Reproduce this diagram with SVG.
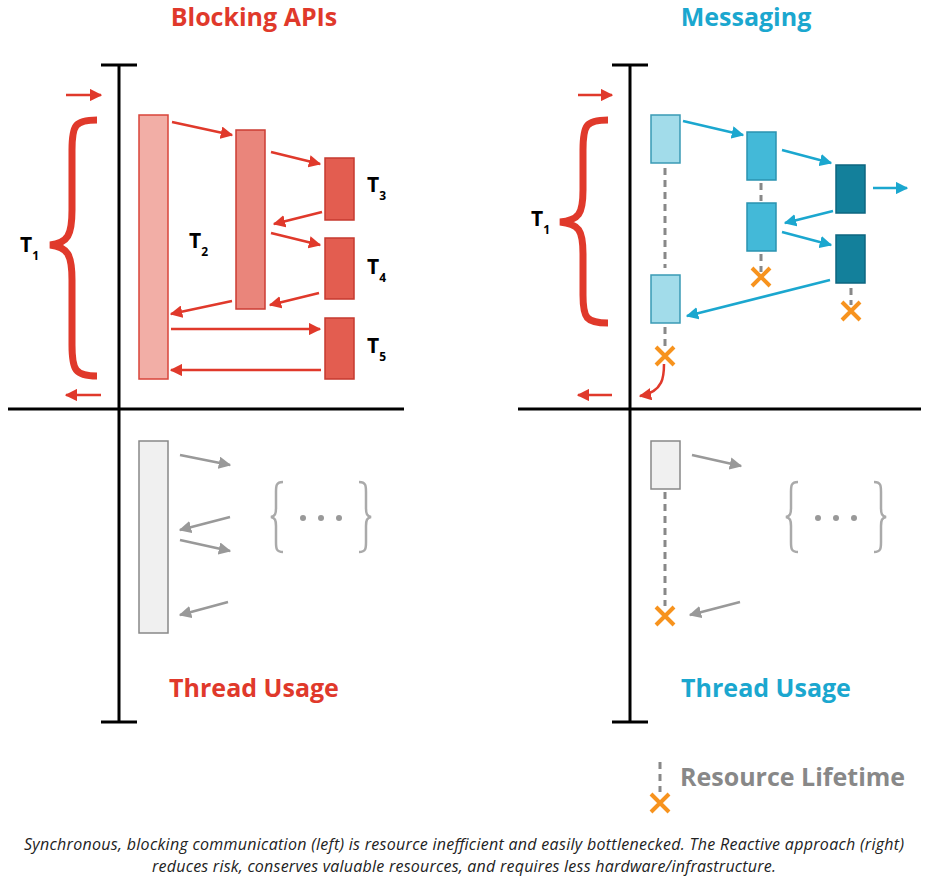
<svg xmlns="http://www.w3.org/2000/svg" width="931" height="890" viewBox="0 0 931 890">
<defs>
<marker id="ar" viewBox="0 0 10 10" refX="9" refY="5" markerWidth="5" markerHeight="5" orient="auto" markerUnits="strokeWidth"><path d="M0,0 L10,5 L0,10 z" fill="#e0392b"/></marker>
<marker id="ab" viewBox="0 0 10 10" refX="9" refY="5" markerWidth="5" markerHeight="5" orient="auto" markerUnits="strokeWidth"><path d="M0,0 L10,5 L0,10 z" fill="#1ba7cf"/></marker>
<marker id="ag" viewBox="0 0 10 10" refX="9" refY="5" markerWidth="5" markerHeight="5" orient="auto" markerUnits="strokeWidth"><path d="M0,0 L10,5 L0,10 z" fill="#999"/></marker>
<g id="xm"><path d="M-9,-9 L9,9 M9,-9 L-9,9" stroke="#f7931e" stroke-width="4"/></g>
</defs>
<style>
.ax{stroke:#000;stroke-width:3;fill:none}
.r{stroke:#e0392b;stroke-width:2.5;fill:none;marker-end:url(#ar)}
.b{stroke:#1ba7cf;stroke-width:2.5;fill:none;marker-end:url(#ab)}
.g{stroke:#999;stroke-width:2.5;fill:none;marker-end:url(#ag)}
.d{stroke:#888;stroke-width:3;stroke-dasharray:7,5;fill:none}
.br{stroke:#e0392b;stroke-width:7;fill:none}
.gb{stroke:#aaa;stroke-width:2.5;fill:none}
.t{font-family:"Open Sans","Liberation Sans",sans-serif;font-weight:bold}
.lab{font-family:"Open Sans","Liberation Sans",sans-serif;font-weight:bold;font-size:21px;fill:#000}
.sub{font-size:12px}
</style>
<g id="axes">
<path class="ax" d="M119,65V722 M101,65H137 M101,722H137 M8,409H404"/>
<path class="ax" d="M630,65V722 M612,65H648 M612,722H648 M518,409H921"/>
</g>
<g id="titles">
<text class="t" x="254" y="26" text-anchor="middle" font-size="25" fill="#e0392b">Blocking APIs</text>
<text class="t" x="746" y="26" text-anchor="middle" font-size="25" fill="#1ba7cf">Messaging</text>
<text class="t" x="254" y="697" text-anchor="middle" font-size="25" fill="#e0392b">Thread Usage</text>
<text class="t" x="766" y="697" text-anchor="middle" font-size="25" fill="#1ba7cf">Thread Usage</text>
</g>
<g id="left-nodes">
<rect x="139" y="115" width="29" height="264" fill="#f2aea6" stroke="#d9443a" stroke-width="1.5"/>
<rect x="236" y="130" width="29" height="179" fill="#ea857b" stroke="#cc3d33" stroke-width="1.5"/>
<rect x="325" y="158" width="29" height="62" fill="#e35d50" stroke="#c63a2f" stroke-width="1.5"/>
<rect x="325" y="238" width="29" height="61" fill="#e35d50" stroke="#c63a2f" stroke-width="1.5"/>
<rect x="325" y="318" width="29" height="61" fill="#e35d50" stroke="#c63a2f" stroke-width="1.5"/>
<text class="lab" x="20" y="252">T<tspan class="sub" dy="8">1</tspan></text>
<text class="lab" x="189" y="248">T<tspan class="sub" dy="8">2</tspan></text>
<text class="lab" x="367" y="192">T<tspan class="sub" dy="8">3</tspan></text>
<text class="lab" x="367" y="274">T<tspan class="sub" dy="8">4</tspan></text>
<text class="lab" x="367" y="353">T<tspan class="sub" dy="8">5</tspan></text>
<path class="br" d="M97,120 C75,120 72,125 72,150 L72,210 C72,235 68,243 50,245 C68,247 72,255 72,280 L72,345 C72,370 75,376 97,376"/>
</g>
<g id="right-nodes">
<rect x="651" y="115" width="29" height="48" fill="#a2dcea" stroke="#3a9ab5" stroke-width="1.5"/>
<rect x="651" y="275" width="29" height="48" fill="#a2dcea" stroke="#3a9ab5" stroke-width="1.5"/>
<rect x="747" y="132" width="29" height="48" fill="#43b9d8" stroke="#2a93b0" stroke-width="1.5"/>
<rect x="747" y="203" width="29" height="48" fill="#43b9d8" stroke="#2a93b0" stroke-width="1.5"/>
<rect x="836" y="165" width="29" height="48" fill="#13809b" stroke="#0c6680" stroke-width="1.5"/>
<rect x="836" y="235" width="29" height="48" fill="#13809b" stroke="#0c6680" stroke-width="1.5"/>
<text class="lab" x="531" y="226">T<tspan class="sub" dy="8">1</tspan></text>
<path class="br" d="M608,120 C586,120 583,125 583,150 L583,190 C583,214 579,220 560,222 C579,224 583,230 583,254 L583,295 C583,318 586,323 608,323"/>
<use href="#xm" x="761" y="277"/>
<use href="#xm" x="851" y="311"/>
<use href="#xm" x="665" y="356"/>
</g>
<g id="bottom">
<rect x="139" y="441" width="29" height="192" fill="#f0f0f0" stroke="#888" stroke-width="1.5"/>
<path class="gb" d="M283,482 C276,482 276,486 276,492 L276,508 C276,514 275,516 271,517 C275,518 276,520 276,526 L276,542 C276,548 276,552 283,552"/>
<path class="gb" d="M359,482 C366,482 366,486 366,492 L366,508 C366,514 367,516 371,517 C367,518 366,520 366,526 L366,542 C366,548 366,552 359,552"/>
<circle cx="303" cy="518" r="3" fill="#999"/><circle cx="321" cy="518" r="3" fill="#999"/><circle cx="339" cy="518" r="3" fill="#999"/>
<rect x="651" y="441" width="29" height="48" fill="#f0f0f0" stroke="#888" stroke-width="1.5"/>
<path class="gb" d="M798,482 C791,482 791,486 791,492 L791,508 C791,514 790,516 786,517 C790,518 791,520 791,526 L791,542 C791,548 791,552 798,552"/>
<path class="gb" d="M874,482 C881,482 881,486 881,492 L881,508 C881,514 882,516 886,517 C882,518 881,520 881,526 L881,542 C881,548 881,552 874,552"/>
<circle cx="818" cy="518" r="3" fill="#999"/><circle cx="836" cy="518" r="3" fill="#999"/><circle cx="854" cy="518" r="3" fill="#999"/>
<use href="#xm" x="665" y="616"/>
</g>
<g id="connectors">
<path class="r" d="M66,95H101"/><path class="r" d="M101,395H66"/>
<path class="r" d="M172,122L232,135"/>
<path class="r" d="M271,152L320,164"/>
<path class="r" d="M322,212L274,224"/>
<path class="r" d="M271,233L320,245"/>
<path class="r" d="M319,293L270,305"/>
<path class="r" d="M232,301L171,314"/>
<path class="r" d="M171,329H320"/>
<path class="r" d="M321,370H171"/>
<path class="r" d="M578,95H612"/><path class="r" d="M612,395H578"/>
<path class="r" d="M664,364 C664,375 664,392 640,396"/>
<path class="b" d="M683,121L743,135"/>
<path class="b" d="M782,150L831,163"/>
<path class="b" d="M873,188H907"/>
<path class="b" d="M833,211L785,223"/>
<path class="b" d="M782,232L831,245"/>
<path class="b" d="M830,280L687,316"/>
<path class="d" d="M665,168V268 M761,183V201 M761,254V272 M851,288V305 M665,327V348"/>
<path class="g" d="M180,455L230,465"/>
<path class="g" d="M230,517L180,530"/>
<path class="g" d="M180,540L230,551"/>
<path class="g" d="M228,602L180,615"/>
<path class="g" d="M692,455L741,466"/>
<path class="g" d="M740,602L690,615"/>
<path class="d" d="M665,492V606"/>
</g>
<g id="legend">
<path class="d" d="M660,762V792"/>
<use href="#xm" x="660" y="803"/>
<text class="t" x="680" y="786" font-size="25" fill="#888">Resource Lifetime</text>
</g>
<g id="caption" font-family="'Source Sans Pro','Open Sans','Liberation Sans',sans-serif" font-style="italic" font-size="16" fill="#222" text-anchor="middle">
<text x="464" y="850" textLength="880">Synchronous, blocking communication (left) is resource inefficient and easily bottlenecked. The Reactive approach (right)</text>
<text x="464" y="872" textLength="624">reduces risk, conserves valuable resources, and requires less hardware/infrastructure.</text>
</g>
</svg>
